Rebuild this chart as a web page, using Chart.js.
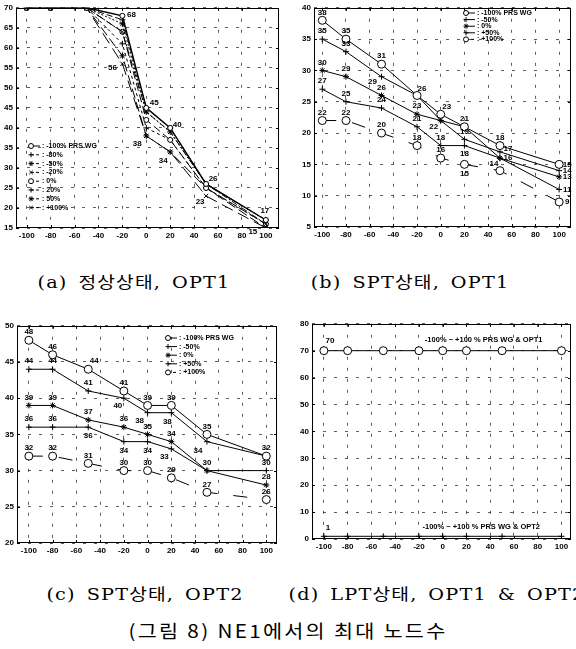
<!DOCTYPE html>
<html>
<head>
<meta charset="utf-8">
<script src="https://cdn.jsdelivr.net/npm/chart.js@4.4.1/dist/chart.umd.min.js"></script>
<style>
  body { margin: 0; background: #fff; width: 576px; height: 649px; position: relative; overflow: hidden; }
  .p { position: absolute; }
  .cap { position: absolute; white-space: nowrap; line-height: 1; color: #000;
         transform: translate(-50%, -50%) scaleX(1.2); letter-spacing: 1px; word-spacing: 3px;
         font-family: 'DejaVu Serif', 'Liberation Serif', 'Noto Sans CJK KR', serif; font-size: 16px; }
  .main { font-family: 'Noto Sans CJK KR', sans-serif; font-size: 18px; letter-spacing: 2px; word-spacing: 0;
          transform: translate(-50%, -50%) scaleX(1.15); }
</style>
</head>
<body>
<div class="p" style="left:0;top:0"><canvas id="chart-a" width="284" height="243"></canvas></div>
<div class="p" style="left:298px;top:0"><canvas id="chart-b" width="278" height="242"></canvas></div>
<div class="p" style="left:1px;top:318px"><canvas id="chart-c" width="281" height="240"></canvas></div>
<div class="p" style="left:296px;top:316px"><canvas id="chart-d" width="280" height="238"></canvas></div>

<div class="cap" style="left:134px;top:283px">(a) 정상상태, OPT1</div>
<div class="cap" style="left:410px;top:283px">(b) SPT상태, OPT1</div>
<div class="cap" style="left:145px;top:595px">(c) SPT상태, OPT2</div>
<div class="cap" style="left:437px;top:595px">(d) LPT상태, OPT1 &amp; OPT2</div>
<div class="cap main" style="left:288px;top:630px">(그림 8) NE1에서의 최대 노드수</div>

<script>
'use strict';

// ─── Datos ────────────────────────────────────────────────────────────────────

const xVals  = [-100, -80, -50, -20, 0, 20, 50, 100];
const xTicks = [-100, -80, -60, -40, -20, 0, 20, 40, 60, 80, 100];

// (a) 정상상태, OPT1
const namesA  = ['-100% PRS WG', '-80%', '-50%', '-20%', '0%', '20%', '50%', '+100%'];
const aM100   = [70, 70, 70, 68, 45, 40, 26, 17];
const aM80    = [70, 70, 70, 67, 45, 40, 26, 17];
const aM50    = [70, 70, 70, 66, 44, 39, 26, 17];
const aM20    = [70, 70, 70, 64, 44, 39, 26, 16];
const aZero   = [70, 70, 70, 64, 42, 37, 25, 16];
const aP20    = [70, 70, 70, 61, 40, 37, 25, 16];
const aP50    = [70, 70, 70, 58, 38, 34, 25, 15];
const aP100   = [70, 70, 70, 56, 38, 34, 23, 15];
const yTicksA = [15, 20, 25, 30, 35, 40, 45, 50, 55, 60, 65, 70];

// (b) SPT상태, OPT1
const namesB  = ['-100% PRS WG', '-50%', '0%', '+50%', '+100%'];
const bM100   = [38, 35, 31, 26, 23, 21, 18, 15];
const bM50    = [35, 33, 29, 26, 22, 19, 17, 14];
const bZero   = [30, 29, 26, 23, 22, 21, 16, 13];
const bP50    = [27, 25, 24, 21, 18, 18, 16, 11];
const bP100   = [22, 22, 20, 18, 16, 15, 14, 9];
const yTicksB = [5, 10, 15, 20, 25, 30, 35, 40];

// (c) SPT상태, OPT2
const namesC  = ['-100% PRS WG', '-50%', '0%', '+50%', '+100%'];
const cM100   = [48, 46, 44, 41, 39, 39, 35, 32];
const cM50    = [44, 44, 41, 40, 38, 38, 34, 32];
const cZero   = [39, 39, 37, 36, 35, 34, 30, 28];
const cP50    = [36, 36, 36, 34, 34, 33, 30, 30];
const cP100   = [32, 32, 31, 30, 30, 29, 27, 26];
const yTicksC = [20, 25, 30, 35, 40, 45, 50];

// (d) LPT상태, OPT1 & OPT2
const namesD  = ['OPT1', 'OPT2'];
const dOpt1   = [70, 70, 70, 70, 70, 70, 70, 70];
const dOpt2   = [1, 1, 1, 1, 1, 1, 1, 1];
const yTicksD = [0, 10, 20, 30, 40, 50, 60, 70, 80];
const notesD  = ['-100% ~ +100 % PRS WG & OPT1', '-100% ~ +100 % PRS WG & OPT2'];

// ─── Estilo ───────────────────────────────────────────────────────────────────

const FONT = "'Liberation Sans Narrow', 'Liberation Sans', Arial, sans-serif";

const GRID   = { color: '#333', lineWidth: 0.8, drawTicks: false };
const BORDER = { display: false, dash: [3, 8] };
const TICKS  = { color: '#000', padding: 3, autoSkip: false, maxRotation: 0,
                 font: { family: FONT, size: 8, weight: 'bold' } };

const stylesA = [
  { point: 'circle',   r: 2.5, dash: [],        w: 1.4 },
  { point: 'cross',    r: 3,   dash: [6, 3],    w: 1 },
  { point: 'star',     r: 3,   dash: [2, 2],    w: 1 },
  { point: 'crossRot', r: 3,   dash: [6, 2, 2, 2], w: 1 },
  { point: 'circle',   r: 2.5, dash: [8, 4],    w: 1 },
  { point: 'cross',    r: 3,   dash: [3, 3],    w: 1 },
  { point: 'star',     r: 3,   dash: [10, 4],   w: 1 },
  { point: 'crossRot', r: 3,   dash: [12, 6],   w: 1 },
];

const stylesBC = [
  { point: 'circle', r: 4, dash: [],       w: 1 },
  { point: 'cross',  r: 3, dash: [],       w: 1 },
  { point: 'star',   r: 3, dash: [],       w: 1 },
  { point: 'cross',  r: 3, dash: [],       w: 1 },
  { point: 'circle', r: 4, dash: [14, 16], w: 1 },
];

const stylesD = [
  { point: 'circle', r: 4, dash: [], w: 1 },
  { point: 'cross',  r: 3, dash: [], w: 1 },
];

// ─── Helpers ──────────────────────────────────────────────────────────────────

function ds(label, values, st) {
  return {
    label: label,
    data: xVals.map(function(x, i) { return { x: x, y: values[i] }; }),
    borderColor: '#000',
    borderWidth: st.w,
    borderDash: st.dash,
    pointStyle: st.point,
    pointRadius: st.r,
    pointBorderColor: '#000',
    pointBackgroundColor: '#fff',
    pointBorderWidth: 1,
    tension: 0,
  };
}

// etiquetas por defecto arriba de cada punto, con cambios y omisiones
function allLabels(nSeries, moves, skip) {
  const out = [];
  for (let d = 0; d < nSeries; d++) {
    for (let i = 0; i < xVals.length; i++) {
      if (skip.some(function(s) { return s[0] === d && s[1] === i; })) continue;
      const m = moves.find(function(s) { return s[0] === d && s[1] === i; });
      out.push(m ? m : [d, i, 0, -8]);
    }
  }
  return out;
}

// ─── Plugins ──────────────────────────────────────────────────────────────────

const framePlugin = {
  id: 'frame',
  afterDatasetsDraw(chart) {
    const ctx = chart.ctx, a = chart.chartArea, sx = chart.scales.x, sy = chart.scales.y;
    ctx.save();
    ctx.strokeStyle = '#000';
    ctx.lineWidth = 1;
    ctx.setLineDash([]);
    ctx.strokeRect(Math.round(a.left) + 0.5, Math.round(a.top) + 0.5,
                   Math.round(a.right - a.left) - 1, Math.round(a.bottom - a.top) - 1);
    ctx.beginPath();
    sx.ticks.forEach(function(t) {
      const px = Math.round(sx.getPixelForValue(t.value)) + 0.5;
      ctx.moveTo(px, a.bottom); ctx.lineTo(px, a.bottom - 3);
      ctx.moveTo(px, a.top);    ctx.lineTo(px, a.top + 3);
    });
    sy.ticks.forEach(function(t) {
      const py = Math.round(sy.getPixelForValue(t.value)) + 0.5;
      ctx.moveTo(a.left, py);  ctx.lineTo(a.left + 3, py);
      ctx.moveTo(a.right, py); ctx.lineTo(a.right - 3, py);
    });
    ctx.stroke();
    ctx.restore();
  }
};

const labelPlugin = {
  id: 'valueLabels',
  afterDatasetsDraw(chart, args, o) {
    const ctx = chart.ctx;
    ctx.save();
    ctx.font = 'bold 8px ' + FONT;
    ctx.fillStyle = '#000';
    ctx.textAlign = 'center';
    ctx.textBaseline = 'middle';
    (o.items || []).forEach(function(it) {
      const pt = chart.getDatasetMeta(it[0]).data[it[1]];
      const v = chart.data.datasets[it[0]].data[it[1]].y;
      ctx.fillText(String(v), pt.x + it[2], pt.y + it[3]);
    });
    ctx.restore();
  }
};

const legendPlugin = {
  id: 'miniLegend',
  afterDatasetsDraw(chart, args, o) {
    if (!o || o.x === undefined) return;
    const ctx = chart.ctx;
    ctx.save();
    ctx.font = 'bold 7px ' + FONT;
    ctx.textBaseline = 'middle';
    chart.data.datasets.forEach(function(d, k) {
      const y = o.y + k * o.step;
      ctx.strokeStyle = '#000';
      ctx.lineWidth = 1;
      ctx.setLineDash(d.borderDash.length ? [3, 2] : []);
      ctx.beginPath(); ctx.moveTo(o.x, y); ctx.lineTo(o.x + 9, y); ctx.stroke();
      ctx.setLineDash([]);
      ctx.fillStyle = '#fff';
      Chart.helpers.drawPoint(ctx, { pointStyle: d.pointStyle, radius: 2.5, borderWidth: 1, rotation: 0 }, o.x, y);
      ctx.fillStyle = '#000';
      ctx.fillText(': ' + d.label, o.x + 11, y);
    });
    ctx.restore();
  }
};

const notePlugin = {
  id: 'notes',
  afterDatasetsDraw(chart, args, o) {
    const ctx = chart.ctx, sx = chart.scales.x, sy = chart.scales.y;
    ctx.save();
    ctx.font = 'bold 7.5px ' + FONT;
    ctx.fillStyle = '#000';
    ctx.textBaseline = 'middle';
    (o.items || []).forEach(function(n) {
      ctx.fillText(n.text, sx.getPixelForValue(n.x), sy.getPixelForValue(n.y));
    });
    ctx.restore();
  }
};

// ─── Graficas ─────────────────────────────────────────────────────────────────

function makeChart(id, datasets, yTicks, cfg) {
  return new Chart(document.getElementById(id), {
    type: 'line',
    data: { datasets: datasets },
    options: {
      responsive: false,
      animation: false,
      events: [],
      layout: { padding: cfg.padding },
      plugins: {
        legend: { display: false },
        tooltip: { enabled: false },
        valueLabels: { items: cfg.labels },
        miniLegend: cfg.legend || {},
        notes: { items: cfg.notes || [] },
      },
      scales: {
        x: {
          type: 'linear', min: cfg.xMin, max: cfg.xMax,
          afterBuildTicks: function(s) { s.ticks = xTicks.map(function(v) { return { value: v }; }); },
          afterFit: function(s) { s.height = 15; },
          grid: GRID, border: BORDER, ticks: TICKS,
        },
        y: {
          type: 'linear', min: yTicks[0], max: yTicks[yTicks.length - 1],
          afterBuildTicks: function(s) { s.ticks = yTicks.map(function(v) { return { value: v }; }); },
          afterFit: function(s) { s.width = 16; },
          grid: GRID, border: BORDER, ticks: TICKS,
        },
      },
    },
    plugins: [framePlugin, labelPlugin, legendPlugin, notePlugin],
  });
}

const seriesA = [aM100, aM80, aM50, aM20, aZero, aP20, aP50, aP100];
makeChart('chart-a',
  seriesA.map(function(v, k) { return ds(namesA[k], v, stylesA[k]); }),
  yTicksA, {
    xMin: -109, xMax: 111,
    padding: { top: 5, right: 2, left: 0, bottom: 0 },
    labels: [
      [0, 3, 9, -1], [7, 3, -10, 4],
      [0, 4, 8, -5], [7, 4, -9, 8],
      [0, 5, 7, -3], [7, 5, -7, 9],
      [0, 6, 7, -5], [7, 6, -6, 6],
      [0, 7, -1, -9], [6, 7, -13, 4],
    ],
    legend: { x: 31, y: 146, step: 8.8 },
  });

const seriesB = [bM100, bM50, bZero, bP50, bP100];
makeChart('chart-b',
  seriesB.map(function(v, k) { return ds(namesB[k], v, stylesBC[k]); }),
  yTicksB, {
    xMin: -107, xMax: 110,
    padding: { top: 5, right: 3, left: 0, bottom: 0 },
    labels: allLabels(5, [
      [0, 3, 5, -7], [0, 4, 6, -7], [1, 2, -9, 5], [1, 4, -7, 6],
      [3, 5, 0, 8], [4, 5, 0, 9], [1, 6, 8, -3], [2, 6, 8, 0], [4, 6, -6, -7],
      [0, 7, 8, 0], [1, 7, 8, 0], [2, 7, 8, 0], [3, 7, 8, 0], [4, 7, 8, 0],
    ], [[1, 3], [2, 4], [2, 5], [3, 6]]),
    legend: { x: 168, y: 13, step: 6.6 },
  });

const seriesC = [cM100, cM50, cZero, cP50, cP100];
makeChart('chart-c',
  seriesC.map(function(v, k) { return ds(namesC[k], v, stylesBC[k]); }),
  yTicksC, {
    xMin: -110, xMax: 109,
    padding: { top: 7, right: 2, left: 0, bottom: 0 },
    labels: allLabels(5, [
      [0, 2, 6, -8], [3, 2, 0, 9], [1, 3, -6, 8], [3, 3, 0, 9],
      [1, 4, -8, 8], [3, 4, 0, 9], [1, 5, -4, 9], [3, 5, -7, 8], [1, 6, -9, 9],
    ], [[3, 6], [1, 7]]),
    legend: { x: 167, y: 20, step: 8.6 },
  });

makeChart('chart-d',
  [ds(namesD[0], dOpt1, stylesD[0]), ds(namesD[1], dOpt2, stylesD[1])],
  yTicksD, {
    xMin: -110, xMax: 108,
    padding: { top: 7, right: 2, left: 0, bottom: 0 },
    labels: [[0, 0, 6, -10], [1, 0, 4, -9]],
    notes: [
      { x: -15, y: 74, text: notesD[0] },
      { x: -17, y: 4.5, text: notesD[1] },
    ],
  });
</script>
</body>
</html>
